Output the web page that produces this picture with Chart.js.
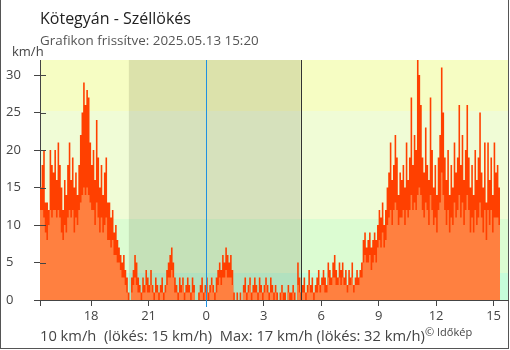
<!DOCTYPE html>
<html lang="hu">
<head>
<meta charset="utf-8">
<title>Kötegyán - Széllökés</title>
<script src="https://cdn.jsdelivr.net/npm/chart.js@4.4.1/dist/chart.umd.min.js"></script>
<style>
  html, body { margin: 0; padding: 0; background: #fff; }
  body { width: 510px; height: 350px; position: relative; overflow: hidden; font-family: "Open Sans", sans-serif; }
  #frame { position: absolute; left: 0; top: -1px; width: 507px; height: 348px; border: 1px solid #555; }
  #chart { position: absolute; left: 0; top: 0; }
  .txt { position: absolute; white-space: pre; }
  #title { left: 40px; top: 8px; font-size: 16px; line-height: 20px; color: #222; }
  #sub { left: 40px; top: 32px; font-size: 13.4px; line-height: 16px; color: #555; }
  #unit { left: 12px; top: 43px; font-size: 13px; line-height: 16px; color: #444; }
  #foot { left: 40px; top: 326px; font-size: 14.7px; line-height: 18px; color: #444; }
  #copy { left: 425px; top: 325px; font-size: 11px; line-height: 14px; color: #444; }
</style>
</head>
<body>
<div id="frame"></div>
<canvas id="chart" width="510" height="350"></canvas>
<div class="txt" id="title">Kötegyán - Széllökés</div>
<div class="txt" id="sub">Grafikon frissítve: 2025.05.13 15:20</div>
<div class="txt" id="unit">km/h</div>
<div class="txt" id="foot">10 km/h  (lökés: 15 km/h)  Max: 17 km/h (lökés: 32 km/h)</div>
<div class="txt" id="copy">© Időkép</div>
<script>
// 5 perces mérések előző nap 15:20-tól 15:20-ig, km/h
const firstSample = -8 - 40 / 60   // órában, éjfélhez képest
const sampleStep = 5 / 60

const gustKmh = [
  18, 15, 18, 20, 13, 13, 12, 20, 18, 17,
  20, 16, 21, 18, 15, 12, 16, 14, 18, 21,
  16, 19, 15, 17, 14, 18, 22, 25, 29, 26, 28, 27,
  21, 18, 20, 16, 24, 19, 15, 18, 14, 17, 19, 13,
  13, 11, 12, 9, 10, 8, 7,
  6, 5, 6, 4, 3,
  1, 0, 3, 4, 6,
  5, 3, 2, 1, 3, 2, 4, 3, 2, 4,
  2, 1, 3, 2, 1, 2, 3, 1, 2,
  4, 5, 6, 7, 5, 3,
  2, 1, 3, 2, 3, 1, 2, 3, 2, 1, 3, 2,
  0, 0, 1,
  2, 3, 1, 2, 3, 1, 2, 3, 2, 1,
  3, 4, 5, 4, 6, 5, 7, 6, 5, 6, 4,
  1, 0, 1, 0, 1, 0,
  2, 3, 1, 2, 3, 1, 2, 3, 2, 1, 3, 2, 1,
  2, 3, 2, 1, 3, 2,
  1, 2, 1, 0, 1, 2, 1, 1, 0, 2, 1, 1, 2, 1, 0,
  5, 3,
  1, 2, 3, 1, 2, 4, 2, 3, 1, 2, 3, 4, 2, 3, 4, 3, 2, 5,
  4, 3, 5, 6, 4, 3, 5, 4,
  5, 3, 4, 2, 4, 3, 5, 2, 3, 4, 3,
  4, 5,
  8, 9, 7, 8, 9, 7, 8, 9, 8,
  10, 12, 11, 13, 10, 12,
  15, 17, 21, 16, 18, 22, 19, 14, 17, 16, 18, 15, 21,
  16, 19, 27, 18, 22, 20, 32,
  30, 26, 19, 17, 23, 18, 16, 27,
  20, 15, 18, 14, 19, 22, 31,
  25, 19, 16, 20, 14, 18, 15, 21, 17, 19,
  26, 18, 22, 16, 20, 26, 19, 15,
  18, 14, 20, 16, 19, 25, 17, 15, 21, 13,
  21, 16, 19, 14, 21, 17, 18, 15,
]

const speedKmh = [
  12, 12, 12, 11, 9, 8, 10, 12, 11, 12,
  12, 11, 12, 11, 9, 8, 10, 9, 11, 12,
  11, 12, 9, 11, 10, 12, 13, 14, 15, 14, 15, 14,
  13, 12, 12, 10, 13, 11, 9, 11, 9, 10, 11, 8,
  8, 7, 8, 6, 6, 5, 5,
  4, 3, 3, 2, 1,
  0, 0, 1, 2, 3,
  2, 1, 1, 0, 1, 1, 2, 1, 1, 2,
  1, 0, 1, 1, 0, 1, 1, 0, 1,
  2, 3, 3, 4, 3, 1,
  1, 0, 1, 1, 2, 0, 1, 1, 1, 0, 1, 1,
  0, 0, 0,
  1, 1, 0, 1, 1, 0, 1, 2, 1, 0,
  1, 2, 3, 2, 3, 3, 4, 3, 3, 3, 2,
  0, 0, 0, 0, 0, 0,
  1, 1, 0, 1, 2, 0, 1, 1, 1, 0, 1, 1, 0,
  1, 2, 1, 0, 1, 1,
  0, 1, 0, 0, 0, 1, 0, 0, 0, 1, 0, 0, 1, 0, 0,
  2, 1,
  0, 1, 1, 0, 1, 2, 1, 1, 0, 1, 1, 2, 1, 2, 2, 1, 1, 3,
  2, 2, 3, 3, 2, 2, 3, 2,
  3, 2, 2, 1, 2, 2, 3, 1, 2, 2, 2,
  3, 3,
  5, 6, 5, 5, 6, 4, 5, 6, 5,
  7, 8, 7, 9, 7, 8,
  10, 11, 12, 10, 12, 13, 12, 10, 11, 11, 12, 10, 12,
  11, 12, 14, 12, 13, 12, 14,
  15, 14, 12, 11, 13, 12, 10, 14,
  12, 10, 11, 9, 12, 13, 17,
  14, 12, 10, 12, 9, 11, 10, 13, 11, 12,
  14, 11, 13, 10, 12, 14, 12, 9,
  11, 9, 12, 10, 11, 13, 11, 9, 12, 8,
  12, 10, 12, 9, 11, 11, 11, 10,
]

const xTickHours = [firstSample, -6, -3, 0, 3, 6, 9, 12, 15]
const yTickValues = [0, 5, 10, 15, 20, 25, 30]
const xMax = 15.75
const yMax = 32

// szélerősség sávok (1, 3, 7 m/s határok)
const bandEdges = [0, 3.6, 10.8, 25.2, yMax]
const bandColors = ["#c6fcda", "#dcfcd2", "#f0fcd6", "#f6fdc3"]
const nightStart = -4.03   // napnyugta
const sunrise = 4 + 56 / 60
const midnight = 0

const toPoints = arr => arr.map((v, i) => ({ x: firstSample + i * sampleStep, y: v }))

const backdrop = {
  id: "backdrop",
  beforeDraw(chart) {
    const { ctx, chartArea: a, scales: { x, y } } = chart
    ctx.save()
    for (let i = 0; i < bandColors.length; i++) {
      const top = y.getPixelForValue(bandEdges[i + 1])
      const bot = y.getPixelForValue(bandEdges[i])
      ctx.fillStyle = bandColors[i]
      ctx.fillRect(a.left, top, a.right - a.left, bot - top)
    }
    // éjszaka
    const n1 = x.getPixelForValue(nightStart)
    const n2 = x.getPixelForValue(sunrise)
    ctx.fillStyle = "rgba(30, 30, 0, 0.12)"
    ctx.fillRect(n1, a.top, n2 - n1, a.bottom - a.top)
    ctx.restore()
  },
  afterDatasetsDraw(chart) {
    const { ctx, chartArea: a, scales: { x, y } } = chart
    ctx.save()
    ctx.lineWidth = 1
    // éjfél
    const mx = Math.round(x.getPixelForValue(midnight)) + 0.5
    ctx.strokeStyle = "#2090e0"
    ctx.beginPath()
    ctx.moveTo(mx, a.top)
    ctx.lineTo(mx, a.bottom + 7)
    ctx.stroke()
    // napkelte
    const sx = Math.round(x.getPixelForValue(sunrise)) + 0.5
    ctx.strokeStyle = "#333"
    ctx.beginPath()
    ctx.moveTo(sx, a.top)
    ctx.lineTo(sx, a.bottom)
    ctx.stroke()
    // y tengely belső jelölői
    ctx.strokeStyle = "#444"
    for (const v of yTickValues) {
      const py = Math.round(y.getPixelForValue(v)) + 0.5
      ctx.beginPath()
      ctx.moveTo(a.left, py)
      ctx.lineTo(a.left + 6, py)
      ctx.stroke()
    }
    ctx.restore()
  },
}

Chart.defaults.font.family = '"Open Sans", sans-serif'

new Chart(document.getElementById("chart"), {
  type: "line",
  data: {
    datasets: [
      {
        label: "Szél",
        data: toPoints(speedKmh),
        backgroundColor: "#ff8040",
        borderWidth: 0,
        pointRadius: 0,
        stepped: "after",
        fill: "origin",
      },
      {
        label: "Széllökés",
        data: toPoints(gustKmh),
        backgroundColor: "#ff4000",
        borderWidth: 0,
        pointRadius: 0,
        stepped: "after",
        fill: "origin",
      },
    ],
  },
  options: {
    responsive: false,
    animation: false,
    events: [],
    layout: { padding: { top: 60, left: 6, right: 2, bottom: 28 } },
    plugins: { legend: { display: false }, tooltip: { enabled: false } },
    scales: {
      x: {
        type: "linear",
        min: firstSample,
        max: xMax,
        afterBuildTicks: s => { s.ticks = xTickHours.map(v => ({ value: v })) },
        afterFit: s => { s.height = 22 },
        ticks: {
          autoSkip: false,
          maxRotation: 0,
          padding: 2,
          color: "#444",
          font: { size: 13 },
          callback: (v, i) => (i === 0 ? "" : String((v + 24) % 24)),
        },
        grid: { drawOnChartArea: false, tickLength: 6, color: "#444" },
        border: { color: "#444" },
      },
      y: {
        min: 0,
        max: yMax,
        afterBuildTicks: s => { s.ticks = yTickValues.map(v => ({ value: v })) },
        afterFit: s => { s.width = 34 },
        ticks: { crossAlign: "far", padding: 0, color: "#444", font: { size: 13 } },
        grid: { drawOnChartArea: false, tickLength: 6, color: "#444" },
        border: { color: "#444" },
      },
    },
  },
  plugins: [backdrop],
})
</script>
</body>
</html>
